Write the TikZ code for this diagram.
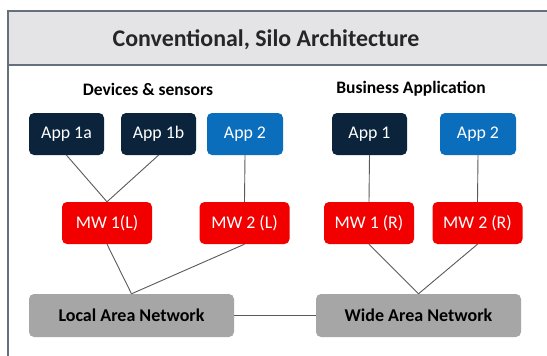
\documentclass[tikz,border=0pt]{standalone}
\usepackage{fontspec}
\setmainfont{Carlito}
\definecolor{navy}{HTML}{0B243B}
\definecolor{appblue}{HTML}{0A6EBD}
\definecolor{mwred}{HTML}{F20000}
\definecolor{netgray}{HTML}{A6A6A6}
\definecolor{bandgray}{HTML}{E4E4E6}
\definecolor{framegray}{HTML}{65707C}
\definecolor{wire}{HTML}{5A5A5A}
\begin{document}
\begin{tikzpicture}[x=1pt,y=-1pt,
  box/.style={rounded corners=5pt, inner sep=0pt, minimum height=42pt, text=white, font=\fontsize{17.8}{17.8}\selectfont},
  appdark/.style={box, fill=navy, minimum width=75pt},
  applight/.style={box, fill=appblue, minimum width=76pt},
  mw/.style={box, fill=mwred, minimum width=90pt},
  net/.style={box, fill=netgray, text=black, minimum width=205pt, minimum height=43pt, font=\fontsize{18}{18}\selectfont\bfseries},
  heading/.style={font=\fontsize{17.5}{17.5}\selectfont\bfseries},
  wireline/.style={draw=wire, line width=0.9pt}]
\useasboundingbox (0,0) rectangle (547,356);
\fill[white] (0,0) rectangle (547,356);
% frame and title band
\begin{scope}
\clip (0,0) rectangle (547,356);
\fill[bandgray] (8,11) rectangle (560,65);
\draw[framegray, line width=1.5pt] (8,370) -- (8,11) -- (560,11);
\draw[framegray, line width=1.5pt] (8,65) -- (560,65);
\end{scope}
\node[font=\fontsize{23.9}{23.9}\selectfont\bfseries, text=black!85] (title) at (266,40) {Conventional, Silo Architecture};
\node[heading] (devices) at (148,89) {Devices \& sensors};
\node[heading] (business) at (411,89) {Business Application};
% applications
\node[appdark] (a1a) at (66.5,134) {App 1a};
\node[appdark] (a1b) at (158.5,134) {App 1b};
\node[applight] (a2l) at (245,134) {App 2};
\node[appdark] (a1r) at (369.5,134) {App 1};
\node[applight] (a2r) at (478,134) {App 2};
% middleware
\node[mw] (m1l) at (107,223) {MW 1(L)};
\node[mw] (m2l) at (244.5,223) {MW 2 (L)};
\node[mw] (m1r) at (369,223) {MW 1 (R)};
\node[mw] (m2r) at (477.5,223) {MW 2 (R)};
% networks
\node[net] (lan) at (131.5,315.5) {Local Area Network};
\node[net] (wan) at (418.5,315.5) {Wide Area Network};
% connectors
\draw[wireline] (a1a.south) -- (m1l.north);
\draw[wireline] (a1b.south) -- (m1l.north);
\draw[wireline] (a2l.south) -- (m2l.north);
\draw[wireline] (a1r.south) -- (m1r.north);
\draw[wireline] (a2r.south) -- (m2r.north);
\draw[wireline] (m1l.south) -- (lan.north);
\draw[wireline] (m2l.south) -- (lan.north);
\draw[wireline] (m1r.south) -- (wan.north);
\draw[wireline] (m2r.south) -- (wan.north);
\draw[wireline] (lan.east) -- (wan.west);
\end{tikzpicture}
\end{document}
